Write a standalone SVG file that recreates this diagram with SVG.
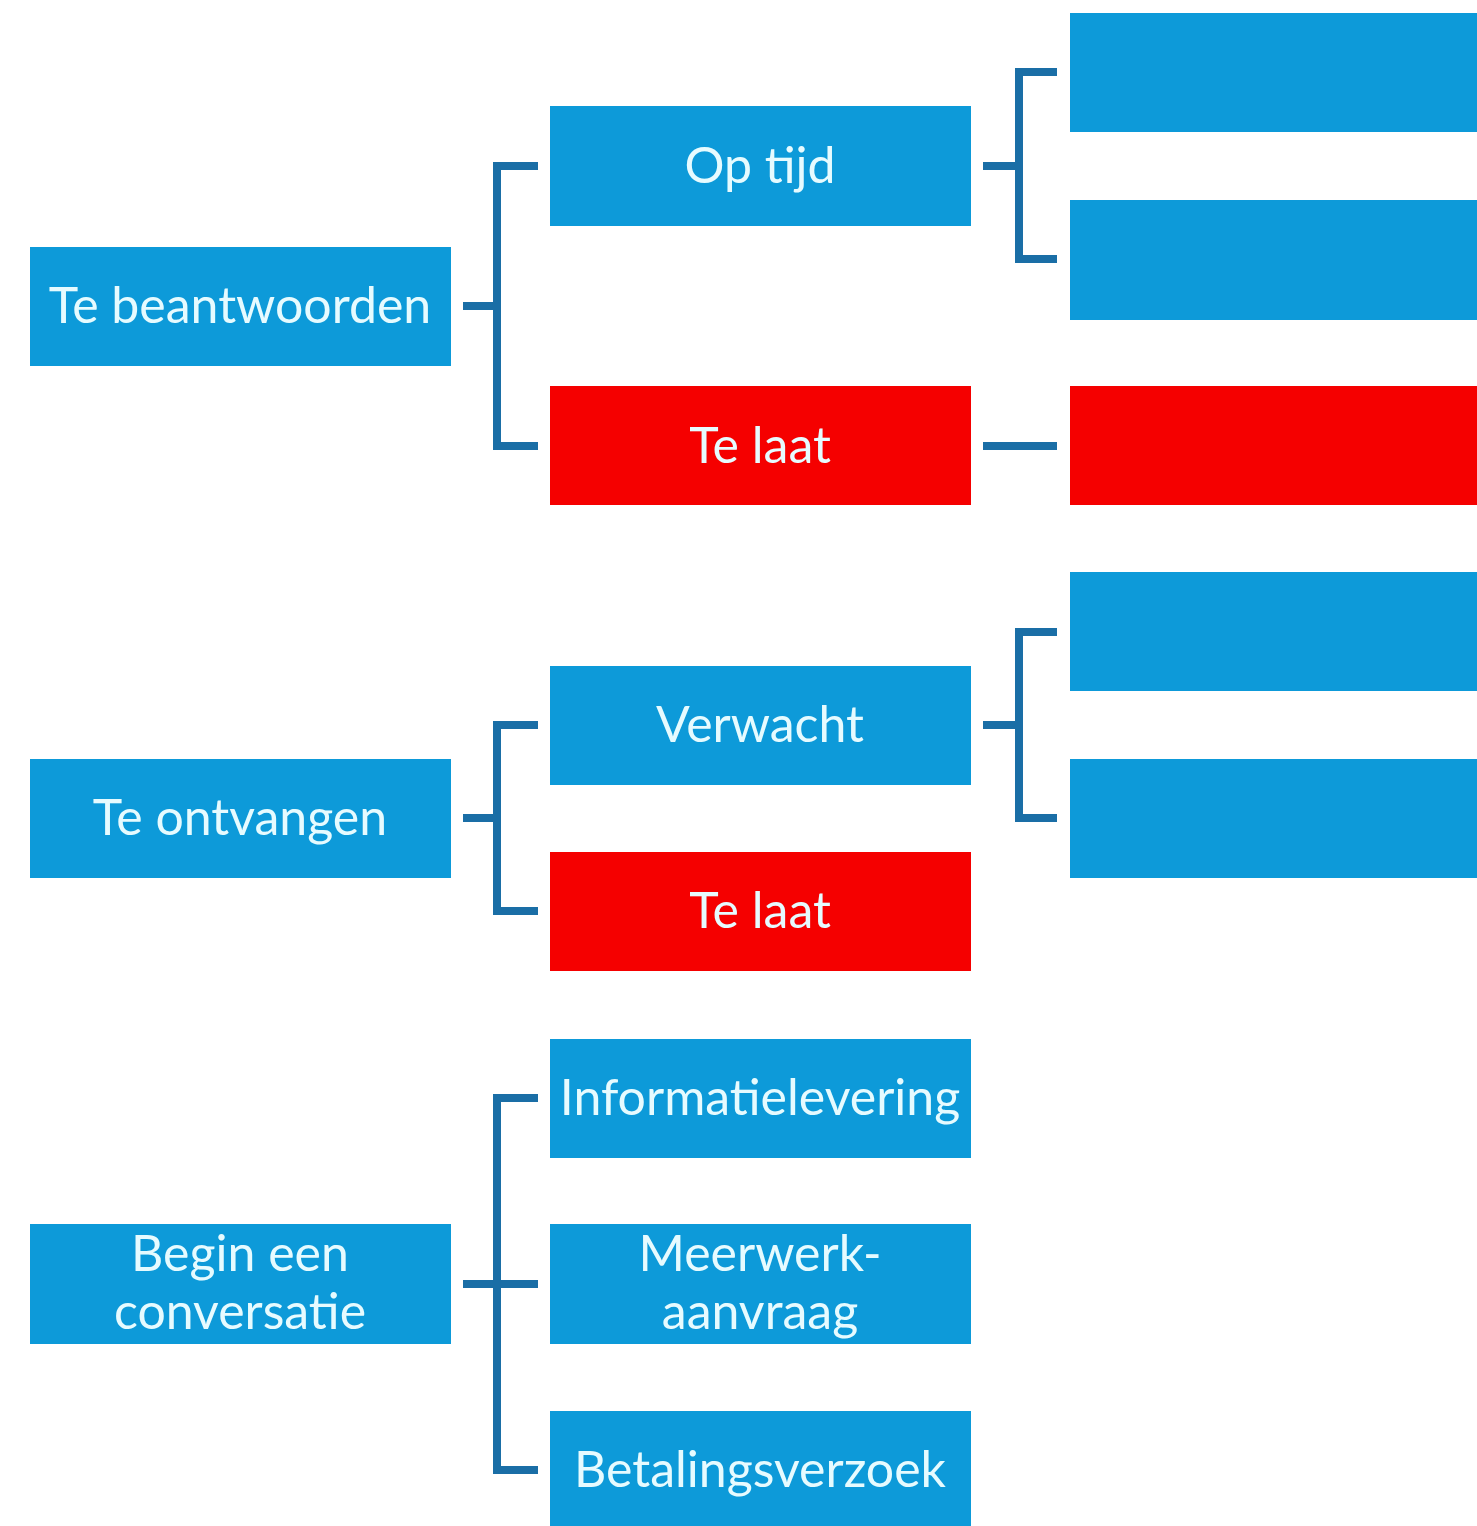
<svg xmlns="http://www.w3.org/2000/svg" width="1477" height="1526" viewBox="0 0 1477 1526">
<style>
.b{fill:#0d9ad9}
.r{fill:#f50000}
.t{font-family:Lato,"Open Sans",sans-serif;font-size:50px;fill:#e6fbff;text-anchor:middle}
.c{stroke:#1a6ea6;stroke-width:8;fill:none;stroke-linecap:butt}
</style>
<rect width="1477" height="1526" fill="#ffffff"/>
<g id="connectors">
<path class="c" d="M463 306H497M538 166H497V446H538"/>
<path class="c" d="M983 166H1019M1057 72H1019V259H1057"/>
<path class="c" d="M983 446H1057"/>
<path class="c" d="M463 818H497M538 725H497V911H538"/>
<path class="c" d="M983 725H1019M1057 632H1019V818H1057"/>
<path class="c" d="M463 1284H538M538 1098H497V1470H538"/>
</g>
<g id="n-te-beantwoorden"><rect class="b" x="30" y="247" width="421" height="119"/><text class="t" x="240" y="323">Te beantwoorden</text></g>
<g id="n-te-ontvangen"><rect class="b" x="30" y="759" width="421" height="119"/><text class="t" x="240" y="835">Te ontvangen</text></g>
<g id="n-begin"><rect class="b" x="30" y="1224" width="421" height="120"/><text class="t" x="240" y="1271">Begin een</text><text class="t" x="240" y="1329">conversatie</text></g>
<g id="n-op-tijd"><rect class="b" x="550" y="106" width="421" height="120"/><text class="t" x="760" y="183">Op tijd</text></g>
<g id="n-te-laat-1"><rect class="r" x="550" y="386" width="421" height="119"/><text class="t" x="760" y="463">Te laat</text></g>
<g id="n-verwacht"><rect class="b" x="550" y="666" width="421" height="119"/><text class="t" x="760" y="742">Verwacht</text></g>
<g id="n-te-laat-2"><rect class="r" x="550" y="852" width="421" height="119"/><text class="t" x="760" y="928">Te laat</text></g>
<g id="n-informatielevering"><rect class="b" x="550" y="1039" width="421" height="119"/><text class="t" x="760" y="1115">Informatielevering</text></g>
<g id="n-meerwerk"><rect class="b" x="550" y="1224" width="421" height="120"/><text class="t" x="760" y="1271">Meerwerk-</text><text class="t" x="760" y="1329">aanvraag</text></g>
<g id="n-betalingsverzoek"><rect class="b" x="550" y="1411" width="421" height="115"/><text class="t" x="760" y="1487">Betalingsverzoek</text></g>
<g id="n-r1"><rect class="b" x="1070" y="13" width="407" height="119"/></g>
<g id="n-r2"><rect class="b" x="1070" y="200" width="407" height="120"/></g>
<g id="n-r3"><rect class="r" x="1070" y="386" width="407" height="119"/></g>
<g id="n-r4"><rect class="b" x="1070" y="572" width="407" height="119"/></g>
<g id="n-r5"><rect class="b" x="1070" y="759" width="407" height="119"/></g>
</svg>
